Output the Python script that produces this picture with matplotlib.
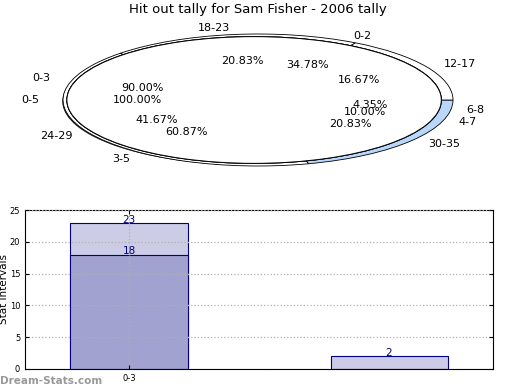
import numpy as np
import matplotlib
matplotlib.use('Agg')
import matplotlib.pyplot as plt

# pie sets (drawn clockwise from 3 o'clock)
pie_a_labels = ['6-8', '3-5', '0-2']
pie_a_vals = [1, 14, 8]
pie_b_labels = ['4-7', '0-3']
pie_b_vals = [2, 18]
pie_c_labels = ['30-35', '24-29', '18-23', '12-17']
pie_c_vals = [5, 10, 5, 4]
pie_d_labels = ['0-5']
pie_d_vals = [1]

# bar chart
bar_ticks = ['0-3']
bar_light = [23, 2]
bar_dark = [18]

fig = plt.figure(figsize=(5.2, 3.9), dpi=100)

""" Pie part """
ax1 = fig.add_axes([14.25 / 520, 1 - 182.5 / 390, 487.5 / 520, 165 / 390])
txt = dict(fontsize=8)
ax1.pie(pie_c_vals, labels=pie_c_labels, autopct='%1.2f%%', startangle=0,
        counterclock=False, colors=['#b9d7fb', 'white', 'white', 'white'],
        wedgeprops=dict(edgecolor='black', linewidth=0.6),
        textprops=txt, labeldistance=1.1, pctdistance=0.6)

r = 0.96
for vals, labs in [(pie_a_vals, pie_a_labels), (pie_b_vals, pie_b_labels),
                   (pie_d_vals, pie_d_labels)]:
    ax1.pie(vals, labels=labs, autopct='%1.2f%%', startangle=0,
            counterclock=False, colors=['white'] * len(vals), radius=r,
            center=(-0.02, 0), shadow=dict(ox=-0.015, oy=-0.015, shade=0.9),
            wedgeprops=dict(edgecolor='black', linewidth=0.7),
            textprops=txt, labeldistance=1.1 / r, pctdistance=0.6 / r)

ax1.set_aspect('auto')
ax1.set_xlim(-1.25, 1.25)
ax1.set_ylim(-1.25, 1.25)
ax1.axis('off')
fig.text(258 / 520, 1 - 10 / 390, 'Hit out tally for Sam Fisher - 2006 tally',
         ha='center', va='center', fontsize=9.5)

""" Bar part """
ax2 = fig.add_axes([25 / 520, 21 / 390, 468 / 520, 159 / 390])
x = np.arange(len(bar_light))
ax2.bar(x, bar_light, width=0.45, color='#ccccе6'.replace('е', 'e'),
        edgecolor='#000080', linewidth=0.8, zorder=2)
ax2.bar(np.arange(len(bar_dark)), bar_dark, width=0.45, color='#a2a2d0',
        edgecolor='#000080', linewidth=0.8, zorder=2)
for i, v in enumerate(bar_light):
    ax2.text(i, v - 0.3, str(v), ha='center', va='bottom', color='#000080', fontsize=7.5, zorder=4)
for i, v in enumerate(bar_dark):
    ax2.text(i, v - 0.3, str(v), ha='center', va='bottom', color='#000080', fontsize=7.5, zorder=4)

ax2.set_xlim(-0.4, 1.4)
ax2.set_ylim(0, 25)
ax2.set_yticks([0, 5, 10, 15, 20, 25])
ax2.set_xticks([0])
ax2.set_xticklabels(bar_ticks)
ax2.tick_params(axis='both', labelsize=6, direction='in', top=True, right=True, length=3)
ax2.grid(True, linestyle=':', color='#b0b0b0', linewidth=0.9, zorder=3)
ax2.set_axisbelow(False)
ax2.set_ylabel('Stat Intervals', fontsize=7.5)
ax2.yaxis.set_label_coords(-0.035, 0.5)
ax2.set_xlabel('Frequency', fontsize=8, labelpad=6)

fig.text(0.0, 1 - 381 / 390, 'Dream-Stats.com', ha='left', va='center',
         fontsize=7.5, color='#999999', fontweight='bold')

fig.savefig('out.png', dpi=100)
